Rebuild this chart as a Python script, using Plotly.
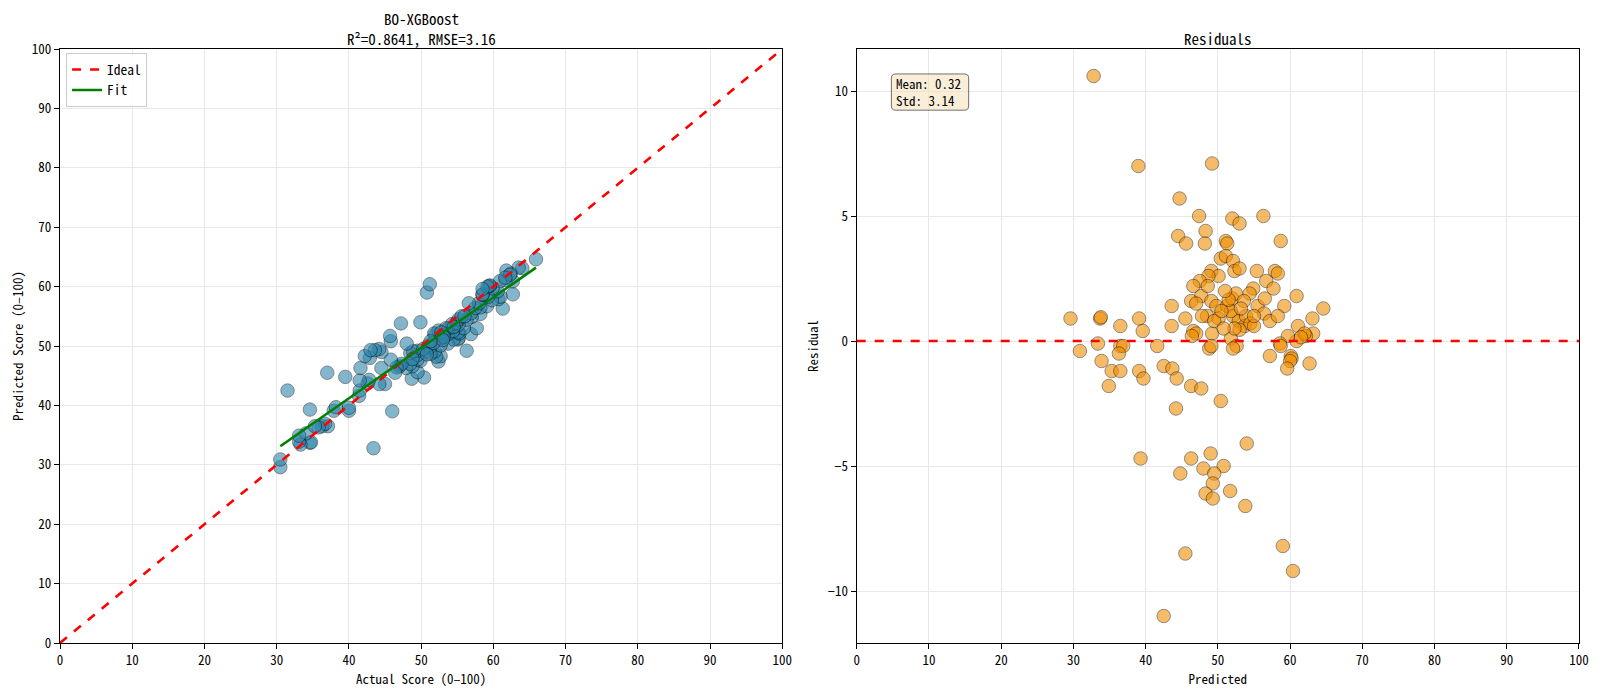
import plotly.graph_objects as go
import numpy as np

# Actual vs. predicted scores (0-100)
y_true = [
    43.4, 46.0, 56.3, 50.4, 52.4, 56.9, 57.7, 61.3, 48.7, 49.5,
    52.7, 52.1, 55.1, 55.2, 62.7, 53.7, 54.5, 55.3, 55.1, 55.9,
    58.2, 60.7, 61.0, 59.1, 59.8, 51.9, 52.7, 51.3, 49.9, 48.8,
    57.0, 56.3, 49.5, 47.9, 48.5, 50.7, 51.2, 52.7, 53.7, 54.4,
    55.2, 56.9, 58.2, 57.5, 60.6, 62.7, 65.9, 45.0, 49.5, 51.0,
    53.1, 53.7, 54.3, 54.9, 55.2, 55.6, 58.0, 59.3, 64.0, 61.7,
    63.5, 62.4, 60.9, 59.9, 58.5, 58.5, 56.6, 59.5, 59.5, 59.2,
    58.5, 61.8, 47.0, 47.3, 46.6, 49.5, 51.9, 52.4, 51.8, 48.5,
    48.9, 41.4, 44.2, 41.5, 42.6, 42.8, 44.5, 45.8, 48.0, 30.5,
    34.6, 34.75, 37.1, 40.0, 40.0, 30.5, 33.3, 36.3, 36.7, 35.8,
    33.1, 34.1, 35.3, 37.9, 38.2, 33.1, 41.5, 49.9, 34.6, 41.6,
    44.5, 45.8, 42.9, 39.5, 44.2, 43.6, 45.7, 42.2, 43.0, 47.2,
    50.8, 37.0, 51.2, 31.5, 50.3, 53.0, 51.7, 56.0, 62.3, 61.65,
    53.45, 52.8, 53.15, 46.4, 48.8, 50.8, 53.0, 54.5, 51.3,
]
y_pred = [
    32.8, 39.0, 49.2, 44.7, 47.4, 52.0, 53.0, 56.3, 44.5, 45.6,
    48.3, 48.2, 51.1, 51.3, 58.7, 50.4, 51.1, 52.1, 52.3, 53.0,
    55.4, 57.9, 58.3, 56.7, 57.7, 49.1, 50.1, 48.7, 47.5, 46.6,
    54.9, 54.4, 47.7, 46.3, 47.0, 49.1, 49.8, 51.3, 52.0, 52.5,
    53.6, 55.5, 56.5, 56.4, 59.2, 60.9, 64.6, 43.6, 48.5, 50.1,
    52.1, 52.9, 53.7, 53.9, 54.5, 55.0, 57.2, 58.3, 63.1, 61.1,
    63.2, 62.2, 60.9, 59.7, 58.6, 58.7, 57.2, 60.1, 60.2, 60.0,
    59.6, 62.7, 46.6, 47.0, 46.4, 49.2, 51.8, 52.6, 52.1, 48.8,
    49.1, 41.6, 43.6, 42.5, 43.7, 44.3, 46.3, 47.7, 50.4, 29.6,
    33.7, 33.8, 36.5, 39.1, 39.6, 30.9, 33.4, 36.5, 36.9, 36.3,
    33.9, 35.3, 36.5, 39.1, 39.7, 34.9, 44.2, 54.0, 39.3, 46.3,
    49.0, 50.8, 48.0, 44.8, 49.5, 49.3, 51.7, 48.3, 49.3, 53.8,
    59.0, 45.5, 60.4, 42.5, 49.5, 51.8, 50.5, 55.0, 62.0, 61.5,
    53.0, 52.3, 51.5, 45.5, 47.8, 48.6, 51.0, 53.2, 50.8,
]

title_left = ["BO-XGBoost", "R\u00b2=0.8641, RMSE=3.16"]
title_right = "Residuals"
stats_lines = ["Mean: 0.32", "Std: 3.14"]
tick_vals = list(range(0, 101, 10))

actual = np.array(y_true)
pred = np.array(y_pred)
residuals = actual - pred

# Linear fit of predicted on actual
slope, intercept = np.polyfit(actual, pred, 1)
fit_x = np.array([actual.min(), actual.max()])
fit_y = slope * fit_x + intercept

font_family = "Noto Sans Mono CJK SC, DejaVu Sans Mono, monospace"
grid_color = "rgb(232,232,232)"

fig = go.Figure()

# Left panel: actual vs predicted
fig.add_trace(go.Scatter(
    x=actual, y=pred, mode="markers", showlegend=False,
    marker=dict(size=13.5, color="#2E86AB", opacity=0.6,
                line=dict(color="black", width=0.7)),
    xaxis="x", yaxis="y",
))
fig.add_trace(go.Scatter(
    x=[0, 100], y=[0, 100], mode="lines", name="Ideal",
    line=dict(color="red", width=2.6, dash="dash"),
    xaxis="x", yaxis="y",
))
fig.add_trace(go.Scatter(
    x=fit_x, y=fit_y, mode="lines", name="Fit",
    line=dict(color="green", width=2.6),
    xaxis="x", yaxis="y",
))

# Right panel: residuals
fig.add_trace(go.Scatter(
    x=pred, y=residuals, mode="markers", showlegend=False,
    marker=dict(size=13.5, color="#F18F01", opacity=0.6,
                line=dict(color="black", width=0.7)),
    xaxis="x2", yaxis="y2",
))

span = residuals.max() - residuals.min()
res_range = [residuals.min() - 0.05 * span, residuals.max() + 0.05 * span]

axis_common = dict(
    showline=True, linecolor="black", linewidth=1.2, mirror=True,
    ticks="outside", ticklen=5, tickcolor="black",
    showgrid=True, gridcolor=grid_color, gridwidth=1,
    zeroline=False, automargin=False, tickfont=dict(size=13, color="black"),
    title_font=dict(size=13, color="black"), title_standoff=6,
)

fig.update_layout(
    width=1600,
    height=690,
    template="plotly_white",
    paper_bgcolor="white",
    plot_bgcolor="white",
    font=dict(family=font_family, color="black"),
    margin=dict(l=52, r=29, t=41, b=55),
    xaxis=dict(domain=[0, 0.4755], range=[0, 100], tickvals=tick_vals,
               title_text="Actual Score (0\u2013100)", **axis_common),
    yaxis=dict(domain=[0, 1], range=[0, 100], tickvals=tick_vals,
               title_text="Predicted Score (0\u2013100)", **axis_common),
    xaxis2=dict(domain=[0.5245, 1], range=[0, 100], tickvals=tick_vals,
                title_text="Predicted", anchor="y2", **axis_common),
    yaxis2=dict(domain=[0, 1], range=res_range, tickvals=[-10, -5, 0, 5, 10],
                title_text="Residual", anchor="x2", **axis_common),
    legend=dict(x=0.004, y=0.993, xanchor="left", yanchor="top",
                bgcolor="rgba(255,255,255,0.8)", bordercolor="rgb(204,204,204)",
                borderwidth=1, font=dict(size=13.5), itemwidth=30,
                tracegroupgap=0),
    showlegend=True,
)

# Zero line on the residual panel
fig.add_shape(type="line", xref="x2 domain", yref="y2", x0=0, x1=1, y0=0, y1=0,
              line=dict(color="red", width=2.6, dash="dash"))

# Panel titles (two lines on the left, set separately for tight spacing)
for line_text, shift in zip(title_left, [31, 11]):
    fig.add_annotation(text=line_text, xref="x domain", yref="paper", x=0.5, y=1,
                       xanchor="center", yanchor="middle", yshift=shift, showarrow=False,
                       font=dict(size=15, color="black"))
fig.add_annotation(text=title_right, xref="x2 domain", yref="paper", x=0.5, y=1,
                   xanchor="center", yanchor="middle", yshift=11, showarrow=False,
                   font=dict(size=15, color="black"))

# Residual statistics box (rounded, wheat)
bx0, bx1, by0, by1 = 0.048, 0.155, 0.897, 0.958
rx, ry = 0.006, 0.007
box_path = (
    f"M {bx0 + rx},{by0} L {bx1 - rx},{by0} Q {bx1},{by0} {bx1},{by0 + ry} "
    f"L {bx1},{by1 - ry} Q {bx1},{by1} {bx1 - rx},{by1} "
    f"L {bx0 + rx},{by1} Q {bx0},{by1} {bx0},{by1 - ry} "
    f"L {bx0},{by0 + ry} Q {bx0},{by0} {bx0 + rx},{by0} Z"
)
fig.add_shape(type="path", xref="x2 domain", yref="y2 domain", path=box_path,
              fillcolor="rgba(245,222,179,0.5)", line=dict(color="rgba(0,0,0,0.55)", width=1))
for line_text, ypos in zip(stats_lines, [0.9425, 0.9125]):
    fig.add_annotation(text=line_text, xref="x2 domain", yref="y2 domain", x=0.052, y=ypos,
                       xanchor="left", yanchor="middle", showarrow=False,
                       font=dict(size=13, color="black"))

fig.write_html("out.html")
